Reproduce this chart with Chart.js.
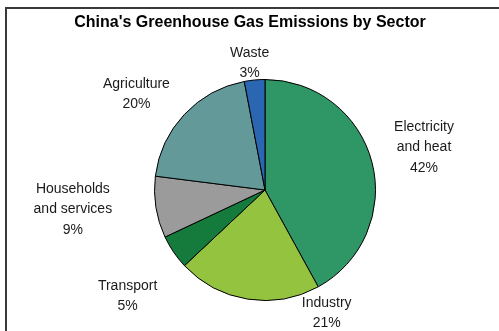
<!DOCTYPE html>
<html>
<head>
<meta charset="utf-8">
<script src="https://cdn.jsdelivr.net/npm/chart.js@4"></script>
<style>
  html, body { margin: 0; padding: 0; background: #fff; }
  #wrap { position: relative; width: 499px; height: 331px; overflow: hidden; }
  #frame { position: absolute; left: 5px; top: 7px; width: 520px; height: 360px;
           border-left: 2px solid #3a3a3a; border-top: 2px solid #3a3a3a; }
  canvas { position: absolute; left: 0; top: 0; }
</style>
</head>
<body>
<div id="wrap">
  <div id="frame"></div>
  <canvas id="pieChart" width="499" height="331"></canvas>
</div>
<script>
const sectores = ["Electricity and heat", "Industry", "Transport", "Households and services", "Agriculture", "Waste"];
const etiquetas = [["Electricity", "and heat"], ["Industry"], ["Transport"], ["Households", "and services"], ["Agriculture"], ["Waste"]];
const porcentajes = [42, 21, 5, 9, 20, 3];
const colores = ["#2f9665", "#94c340", "#147b3d", "#9b9b9b", "#64999a", "#2a66b1"];

// desplazamiento de cada etiqueta respecto al borde del sector
const ajusteEtiquetas = [[52, -15], [79, 14], [-46, 44], [-83, 2], [-48, -20], [-5, -17]];

const etiquetasFuera = {
    id: "etiquetasFuera",
    afterDraw(chart) {
        const ctx = chart.ctx;
        ctx.save();
        ctx.fillStyle = "#000";
        ctx.font = "bold 16px 'Liberation Sans', Arial, sans-serif";
        ctx.textAlign = "center";
        ctx.textBaseline = "middle";
        ctx.fillText("China's Greenhouse Gas Emissions by Sector", 250, 23);

        ctx.font = "14px 'Liberation Sans', Arial, sans-serif";
        ctx.fillStyle = "#1a1a1a";
        const arcs = chart.getDatasetMeta(0).data;
        arcs.forEach((arc, i) => {
            const p = arc.getProps(["x", "y", "startAngle", "endAngle", "outerRadius"], true);
            const mid = (p.startAngle + p.endAngle) / 2;
            const cx = p.x + Math.cos(mid) * p.outerRadius + ajusteEtiquetas[i][0];
            const cy = p.y + Math.sin(mid) * p.outerRadius + ajusteEtiquetas[i][1];
            const lineas = etiquetas[i].concat([porcentajes[i] + "%"]);
            const alto = 20.5;
            const y0 = cy - (lineas.length - 1) * alto / 2;
            lineas.forEach((t, k) => ctx.fillText(t, cx, y0 + k * alto));
        });
        ctx.restore();
    }
};

new Chart(document.getElementById("pieChart").getContext("2d"), {
    type: "pie",
    data: {
        labels: sectores,
        datasets: [{
            data: porcentajes,
            backgroundColor: colores,
            borderColor: "#000",
            borderWidth: 1
        }]
    },
    options: {
        responsive: false,
        animation: false,
        layout: { padding: { top: 79, bottom: 30, left: 100, right: 69 } },
        plugins: {
            legend: { display: false },
            tooltip: { enabled: false },
            title: { display: false }
        }
    },
    plugins: [etiquetasFuera]
});
</script>
</body>
</html>
